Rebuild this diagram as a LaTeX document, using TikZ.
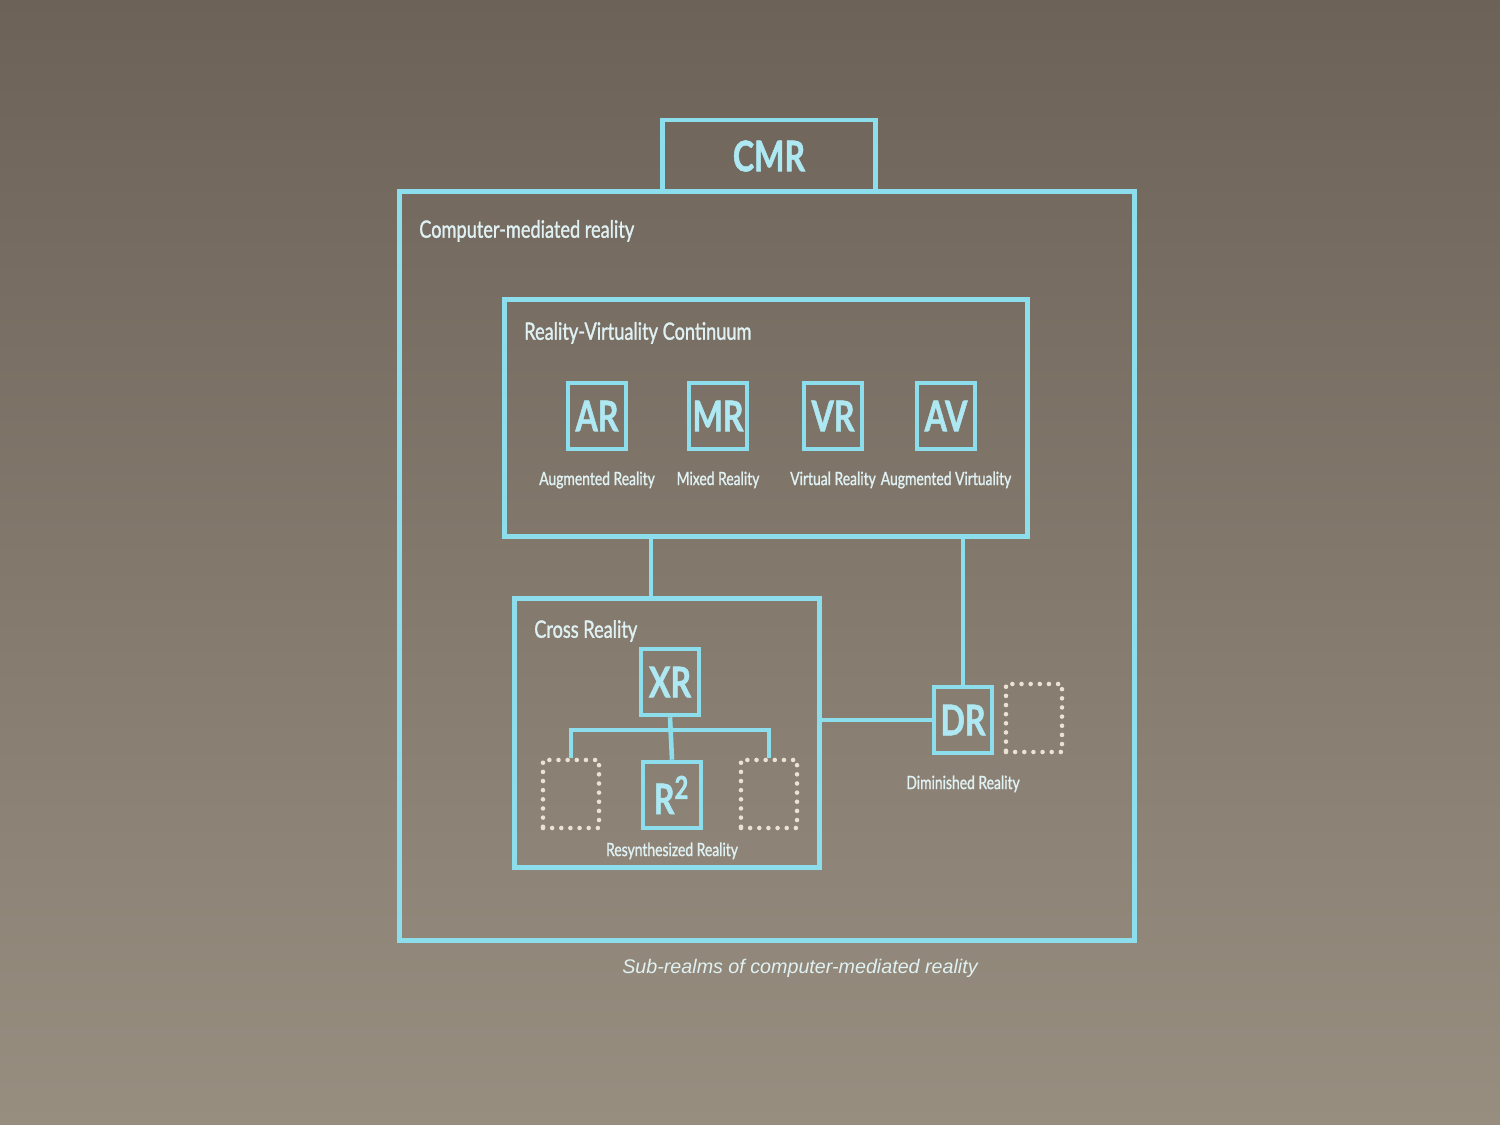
\documentclass[tikz,border=0pt]{standalone}
\usepackage{fontspec}
\setmainfont{Lato}[FakeStretch=0.76, FakeBold=1.2]
\newfontfamily\captionfont{Liberation Sans}
\usetikzlibrary{positioning,calc}
\definecolor{screen}{RGB}{90,80,68}
\definecolor{screentop}{RGB}{108,98,88}
\definecolor{screenbot}{RGB}{152,142,128}
\definecolor{beam}{RGB}{140,222,236}
\definecolor{chalk}{RGB}{224,241,243}
\definecolor{dots}{RGB}{234,226,210}

\begin{document}
\begin{tikzpicture}[x=0.01cm, y=-0.01cm, line width=1.3pt, node distance=0.18cm,
   frame/.style={draw=beam, rectangle, inner sep=0pt},
   realm/.style={draw=beam, rectangle, inner sep=0pt, minimum width=0.58cm, minimum height=0.66cm, text=beam!70!white, font=\bfseries\fontsize{12}{12}\selectfont},
   blank/.style={draw=dots, rectangle, dash pattern=on 0pt off 2.6pt, line cap=round, minimum width=0.56cm, minimum height=0.68cm},
   title/.style={text=chalk, anchor=west, inner sep=0pt, font=\fontsize{6.8}{7}\selectfont},
   caption/.style={text=chalk, inner sep=0pt, font=\fontsize{5.2}{5.5}\selectfont}]

    % screen
    \shade[top color=screentop, middle color=screen, bottom color=screenbot] (0,0) rectangle (1500,1125);
    \useasboundingbox (0,0) rectangle (1500,1125);

    % Place frames
    \node [frame, minimum width=7.35cm, minimum height=7.49cm] (cmr) at (767,566) {};
    \node [frame, minimum width=2.13cm, minimum height=0.72cm, text=beam!70!white, font=\bfseries\fontsize{12}{12}\selectfont] (cmrtab) at (769,156) {CMR};
    \node [title] (cmrlabel) at (417,231) {Computer-mediated reality};

    \node [frame, minimum width=5.23cm, minimum height=2.37cm] (rvc) at (766,418) {};
    \node [title] (rvclabel) at (522,333) {Reality-Virtuality Continuum};

    \node [frame, minimum width=3.05cm, minimum height=2.69cm] (cr) at (667,733) {};
    \node [title] (crlabel) at (532,631) {Cross Reality};

    % Place realms
    \node [realm] (ar) at (597,416) {AR};
    \node [realm] (mr) at (718,416) {MR};
    \node [realm] (vr) at (833,416) {VR};
    \node [realm] (av) at (946,416) {AV};
    \node [caption, below=of ar] {Augmented Reality};
    \node [caption, below=of mr] {Mixed Reality};
    \node [caption, below=of vr] {Virtual Reality};
    \node [caption, below=of av] {Augmented Virtuality};

    \node [realm] (xr) at (670,682) {XR};
    \node [realm] (rr) at (672,795) {R\textsuperscript{\fontsize{9}{9}\selectfont 2}};
    \node [blank] (lblank) at (571,794) {};
    \node [blank] (rblank) at (769,794) {};
    \node [caption, below=0.1cm of rr] (rrlabel) {Resynthesized Reality};

    \node [realm] (dr) at (963,720) {DR};
    \node [blank] (dblank) at (1034,718) {};
    \node [caption, below=0.18cm of dr] (drlabel) {Diminished Reality};

    % Draw edges
    \draw [beam] (xr.south) -- (rr.north);
    \draw [beam] (lblank.north) |- ($(xr.south)!0.3!(rr.north)$) -| (rblank.north);
    \draw [beam] ([xshift=-0.16cm]cr.north) -- ([xshift=-0.16cm]cr.north |- rvc.south);
    \draw [beam] (dr.north) -- (dr.north |- rvc.south);
    \draw [beam] (cr.east |- dr.west) -- (dr.west);

    \node [text=chalk, font=\captionfont\itshape\fontsize{5.6}{7}\selectfont] (sub) at (800,968) {Sub-realms of computer-mediated reality};
\end{tikzpicture}
\end{document}
